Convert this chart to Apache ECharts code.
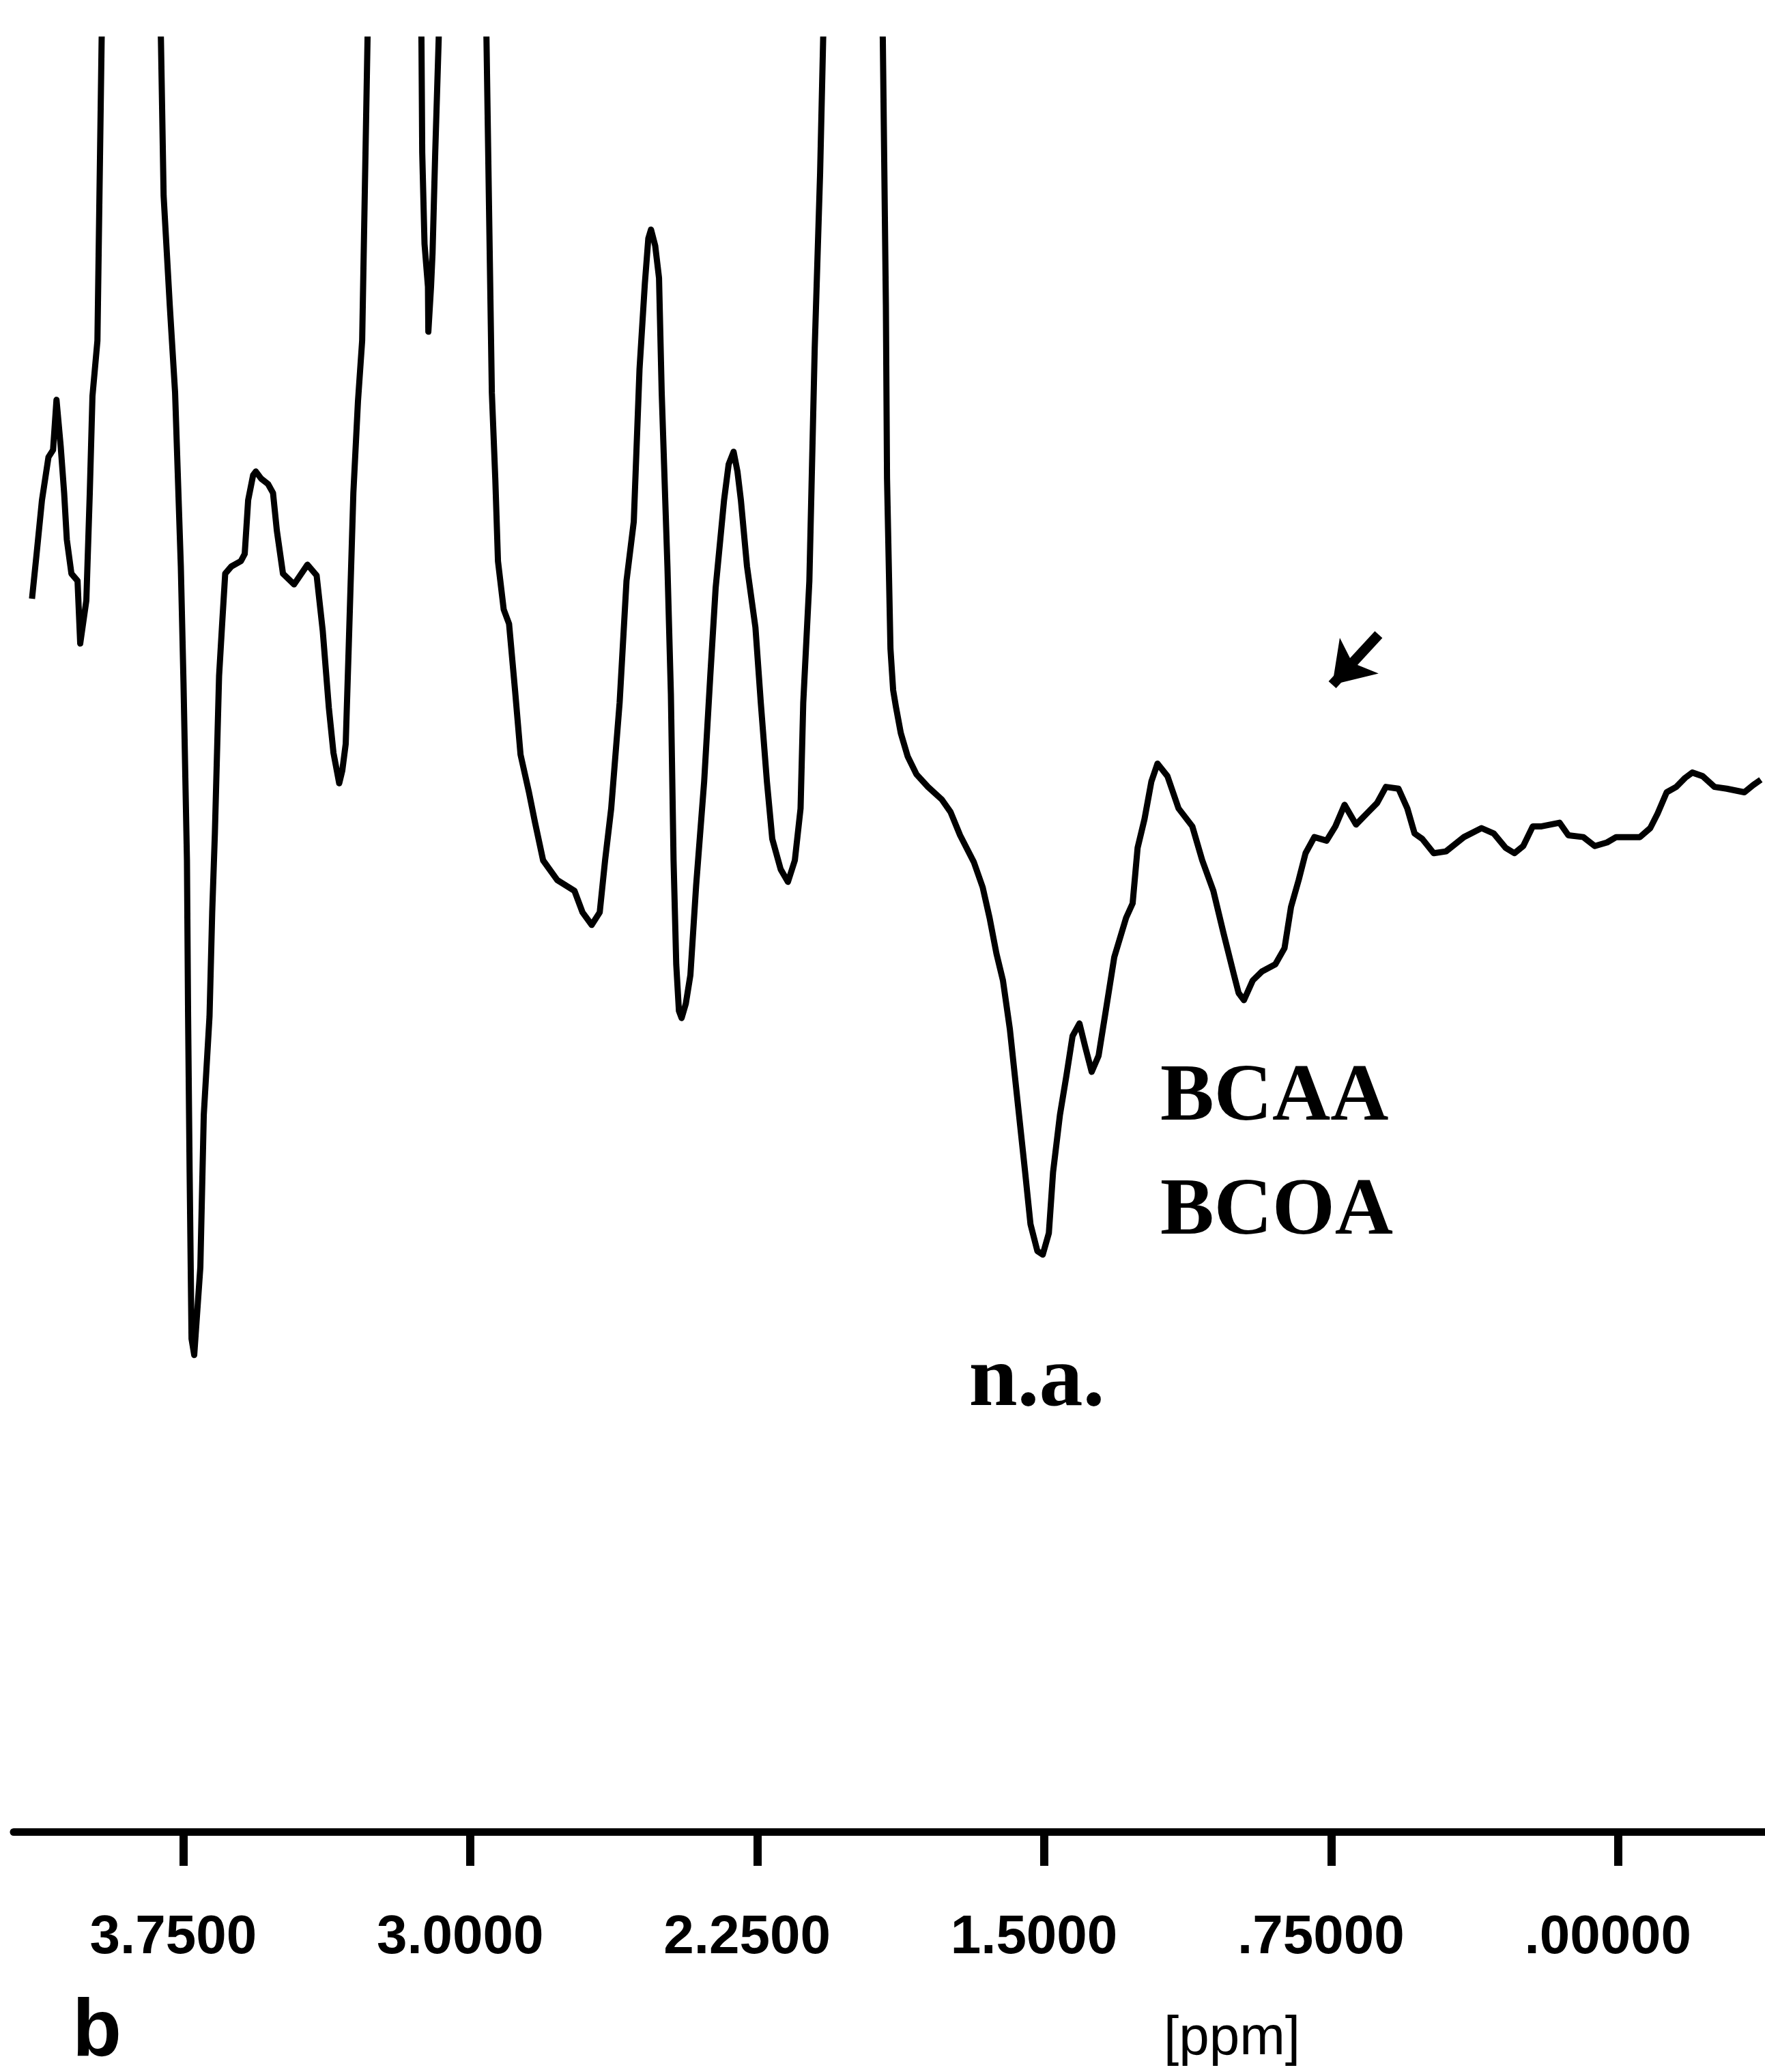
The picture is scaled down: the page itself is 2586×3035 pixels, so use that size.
<!DOCTYPE html>
<html>
<head>
<meta charset="utf-8">
<title>1H NMR spectrum b</title>
<script src="https://cdn.jsdelivr.net/npm/echarts@6/dist/echarts.min.js"></script>
<style>
  html, body { margin: 0; padding: 0; background: #fff; }
  #main { width: 2586px; height: 3035px; }
</style>
</head>
<body>
<div id="main"></div>
<script>
// chemical shift [ppm] and signal intensity (arbitrary units, 100 = top of frame, peaks above are cut off)
let shiftPpm = [
  4.146,4.134,4.120,4.103,4.091,4.082,4.071,4.062,4.055,4.043,
  4.027,4.020,4.004,3.995,3.988,3.975,3.964,3.888,3.809,3.802,
  3.786,3.772,3.757,3.750,3.741,3.738,3.734,3.729,3.722,3.706,
  3.697,3.682,3.675,3.668,3.657,3.649,3.641,3.625,3.600,3.590,
  3.581,3.568,3.561,3.547,3.529,3.516,3.506,3.490,3.461,3.426,
  3.402,3.386,3.370,3.358,3.343,3.335,3.326,3.318,3.306,3.294,
  3.283,3.269,3.199,3.128,3.126,3.120,3.111,3.110,3.103,3.099,
  3.092,3.083,3.021,2.958,2.951,2.944,2.935,2.928,2.913,2.899,
  2.883,2.869,2.847,2.831,2.810,2.773,2.728,2.707,2.683,2.662,
  2.648,2.632,2.610,2.592,2.573,2.558,2.544,2.535,2.528,2.517,
  2.507,2.500,2.485,2.476,2.469,2.462,2.455,2.448,2.437,2.425,
  2.410,2.389,2.373,2.359,2.337,2.325,2.312,2.302,2.293,2.277,
  2.255,2.241,2.225,2.211,2.189,2.170,2.152,2.137,2.130,2.114,
  2.100,2.086,2.078,2.000,1.922,1.914,1.911,1.902,1.895,1.888,
  1.875,1.857,1.834,1.804,1.768,1.745,1.720,1.684,1.661,1.643,
  1.625,1.608,1.590,1.577,1.566,1.550,1.536,1.518,1.504,1.488,
  1.477,1.459,1.442,1.426,1.408,1.393,1.376,1.358,1.340,1.317,
  1.286,1.269,1.256,1.238,1.220,1.204,1.178,1.149,1.113,1.087,
  1.058,1.031,1.004,0.992,0.978,0.955,0.931,0.896,0.872,0.855,
  0.835,0.817,0.794,0.762,0.739,0.715,0.685,0.653,0.630,0.607,
  0.574,0.551,0.532,0.512,0.482,0.450,0.403,0.357,0.325,0.294,
  0.271,0.248,0.223,0.200,0.153,0.130,0.091,0.061,0.029,0.005,
  -0.057,-0.084,-0.103,-0.127,-0.152,-0.175,-0.194,-0.221,-0.252,-0.284,
  -0.330,-0.353,-0.373
];
let intensity = [
  68.8,71.3,74.3,76.7,77.1,79.9,77.3,74.7,72.1,70.2,
  69.8,66.3,68.7,74.7,80.1,83.2,100,160,100,91.3,
  85.2,80.3,70.6,64.1,54.2,45.5,36.8,27.5,26.6,31.5,
  40.0,45.5,51.3,55.7,64.5,67.4,70.2,70.6,70.9,71.3,
  74.3,75.7,75.9,75.5,75.2,74.7,72.6,70.2,69.6,70.7,
  70.1,67.0,62.7,60.2,58.5,59.2,60.7,66.2,74.7,79.8,
  83.2,100,160,100,93.7,88.6,86.2,83.7,86.2,88.1,
  93.7,100,160,100,90.1,80.3,75.5,70.9,68.2,67.4,
  63.6,60.1,58.0,56.3,54.2,53.1,52.5,51.3,50.6,51.3,
  54.2,57.1,63.0,69.8,73.1,81.6,86.4,88.9,89.4,88.5,
  86.7,80.3,70.6,63.5,54.2,48.4,45.8,45.4,46.2,47.8,
  52.8,58.6,64.5,69.4,74.3,76.3,77.0,75.9,74.3,70.6,
  67.2,63.0,58.6,55.4,53.7,53.0,54.2,57.1,63.0,69.8,
  82.8,92.5,100,160,100,85.2,75.5,66.0,63.7,62.8,
  61.3,60.0,59.0,58.3,57.6,56.9,55.6,54.1,52.7,51.0,
  49.0,47.5,44.8,42.2,40.0,36.8,33.9,32.4,32.2,33.4,
  36.8,40.0,42.2,44.4,45.1,43.8,42.4,43.3,45.7,48.8,
  51.0,51.8,54.9,56.5,58.6,59.6,58.9,57.1,56.1,54.2,
  52.5,50.1,47.8,46.8,46.4,47.5,48.0,48.4,49.3,51.6,
  53.1,54.6,55.5,55.3,56.1,57.3,56.2,56.9,57.4,58.3,
  58.2,57.1,55.7,55.4,54.6,54.7,55.5,56.0,55.7,54.9,
  54.6,55.0,56.1,56.1,56.3,55.6,55.5,55.0,55.2,55.5,
  55.5,56.0,56.8,58.0,58.3,58.8,59.1,58.9,58.3,58.2,
  58.0,58.4,58.7
];

let tickValues = [3.75, 3.0, 2.25, 1.5, 0.75, 0];
let tickLabels = ['3.7500', '3.0000', '2.2500', '1.5000', '.75000', '.00000'];

// arrow pointing at the small signal (tail -> tip), in ppm / intensity
let arrowFrom = [0.626, 66.8];
let arrowTo = [0.747, 64.0];

let seriesData = shiftPpm.map(function (p, i) { return [p, intensity[i]]; });

let chart = echarts.init(document.getElementById('main'));

let option = {
  backgroundColor: '#ffffff',
  animation: false,
  grid: {
    left: 20,
    right: 0,
    top: 58,
    bottom: 352,
    containLabel: false,
    outerBoundsMode: 'none'
  },
  xAxis: {
    type: 'value',
    inverse: true,
    min: -0.384,
    max: 4.194,
    splitLine: { show: false },
    axisLine: {
      show: true,
      onZero: false,
      lineStyle: { color: '#000', width: 11 }
    },
    axisTick: {
      show: true,
      inside: false,
      length: 50,
      customValues: tickValues,
      lineStyle: { color: '#000', width: 12 }
    },
    axisLabel: {
      show: true,
      margin: 116,
      padding: [0, 30, 0, 0],
      customValues: tickValues,
      color: '#000',
      fontFamily: '"Liberation Sans", Arial, sans-serif',
      fontWeight: 'bold',
      fontSize: 80,
      lineHeight: 80,
      formatter: function (val) {
        for (let i = 0; i < tickValues.length; i++) {
          if (Math.abs(tickValues[i] - val) < 1e-6) return tickLabels[i];
        }
        return '';
      }
    }
  },
  yAxis: {
    type: 'value',
    min: 0,
    max: 100,
    show: false,
    splitLine: { show: false }
  },
  series: [{
    name: 'spectrum b',
    type: 'line',
    data: seriesData,
    showSymbol: false,
    symbol: 'none',
    smooth: false,
    clip: true,
    lineStyle: { color: '#000', width: 9, join: 'round' },
    markLine: {
      silent: true,
      animation: false,
      symbol: ['none', 'arrow'],
      symbolSize: 58,
      label: { show: false },
      lineStyle: { color: '#000', width: 15, type: 'solid' },
      data: [[{ coord: arrowFrom }, { coord: arrowTo }]]
    }
  }],
  graphic: [
    {
      type: 'text', x: 1700, y: 1610,
      style: {
        text: 'BCAA', fill: '#000',
        font: 'bold 118px "Liberation Serif", serif',
        align: 'left', verticalAlign: 'middle'
      }
    },
    {
      type: 'text', x: 1700, y: 1777,
      style: {
        text: 'BCOA', fill: '#000',
        font: 'bold 118px "Liberation Serif", serif',
        align: 'left', verticalAlign: 'middle'
      }
    },
    {
      type: 'text', x: 1519, y: 2025,
      style: {
        text: 'n.a.', fill: '#000',
        font: 'bold 128px "Liberation Serif", serif',
        align: 'center', verticalAlign: 'middle'
      }
    },
    {
      type: 'text', x: 142, y: 2978,
      style: {
        text: 'b', fill: '#000',
        font: 'bold 118px "Liberation Sans", sans-serif',
        align: 'center', verticalAlign: 'middle'
      }
    },
    {
      type: 'text', x: 1805, y: 2987,
      style: {
        text: '[ppm]', fill: '#000',
        font: '80px "Liberation Sans", sans-serif',
        align: 'center', verticalAlign: 'middle'
      }
    }
  ]
};

chart.setOption(option);
</script>
</body>
</html>
